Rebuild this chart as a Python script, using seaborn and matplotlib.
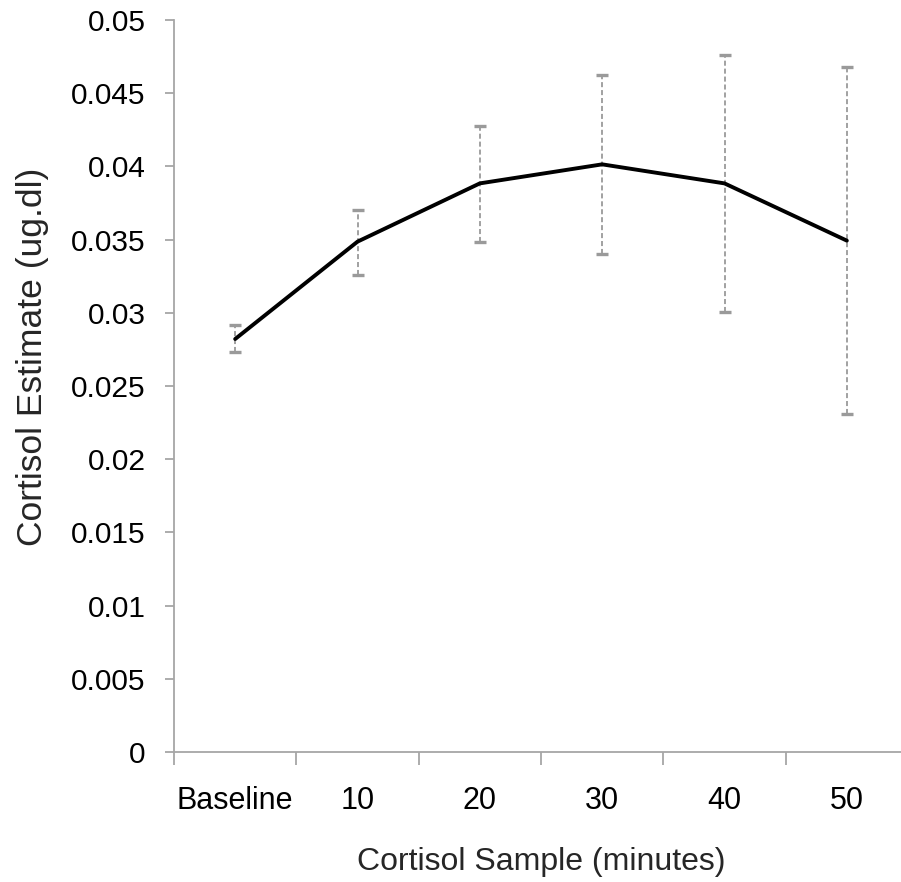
import numpy as np
import pandas as pd
import matplotlib
matplotlib.use("Agg")
import matplotlib.pyplot as plt
import seaborn as sns

categories = ["Baseline", "10", "20", "30", "40", "50"]
means = [0.02821, 0.03486, 0.03884, 0.04014, 0.03884, 0.03493]
upper = [0.02918, 0.03702, 0.04276, 0.04624, 0.04759, 0.04677]
lower = [0.02730, 0.03258, 0.03482, 0.03400, 0.03007, 0.02309]
ytick_vals = [0, 0.005, 0.01, 0.015, 0.02, 0.025, 0.03, 0.035, 0.04, 0.045, 0.05]
ytick_labels = ["0", "0.005", "0.01", "0.015", "0.02", "0.025", "0.03", "0.035", "0.04", "0.045", "0.05"]

sns.set_style("white")
plt.rcParams["font.family"] = ["Liberation Sans", "DejaVu Sans"]

df = pd.DataFrame({"sample": categories, "cortisol": means})

W, H = 901, 882
fig = plt.figure(figsize=(W / 100, H / 100), dpi=100)
ax_left, ax_right, ax_top, ax_bottom = 174, 908, 20, 752
ax = fig.add_axes([ax_left / W, (H - ax_bottom) / H, (ax_right - ax_left) / W, (ax_bottom - ax_top) / H])

pos = np.arange(len(categories))
err_lo = np.array(means) - np.array(lower)
err_hi = np.array(upper) - np.array(means)
eb = ax.errorbar(pos, means, yerr=[err_lo, err_hi], fmt="none", ecolor="#9a9a9a",
                 elinewidth=1.3, capsize=4, capthick=2.4, zorder=2)
for lc in eb[2]:
    lc.set_linestyle((0, (2.8, 1.6)))

sns.lineplot(data=df, x="sample", y="cortisol", sort=False, color="black", linewidth=2.8, ax=ax, zorder=3)

ax.set_xlim(-0.5, len(categories) - 0.5)
ax.set_ylim(0, 0.05)
ax.set_yticks(ytick_vals)
ax.set_yticklabels(ytick_labels)
ax.set_xticks(pos)
ax.set_xticklabels(categories)
ax.set_xticks(np.arange(len(categories)) - 0.5, minor=True)

axis_col = "#a6a6a6"
for s in ["top", "right"]:
    ax.spines[s].set_visible(False)
for s in ["left", "bottom"]:
    ax.spines[s].set_color(axis_col)
    ax.spines[s].set_linewidth(1.3)

ax.tick_params(axis="y", which="major", direction="out", length=6.5, width=1.3, color=axis_col,
               labelsize=21.5, pad=14, left=True, labelcolor="black")
ax.tick_params(axis="x", which="major", length=0, labelsize=22, pad=24.5, labelcolor="black")
ax.tick_params(axis="x", which="minor", direction="out", length=9.5, width=1.3, color=axis_col, bottom=True)

ax.set_xlabel("Cortisol Sample (minutes)", fontsize=23)
ax.set_ylabel("Cortisol Estimate (ug.dl)", fontsize=25.5)
ax.xaxis.set_label_coords(0.5, (752 - 847) / 732)
ax.yaxis.set_label_coords((49 - 174) / 734, 0.54)
ax.grid(False)

fig.savefig("out.png", dpi=100)
